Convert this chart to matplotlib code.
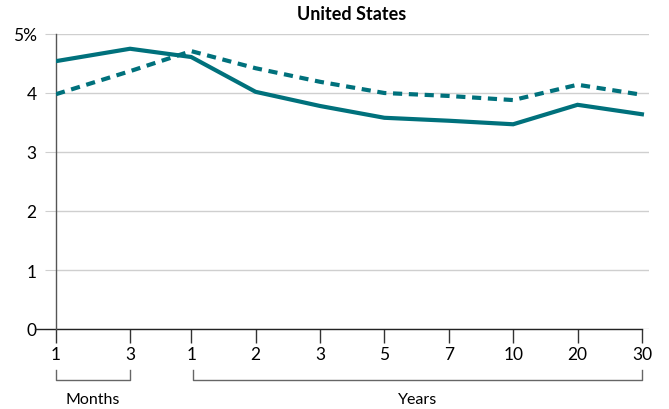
import matplotlib.pyplot as plt
from matplotlib.transforms import blended_transform_factory

plt.rcParams['font.family'] = ['Lato', 'DejaVu Sans']

# Data
tick_labels = ['1', '3', '1', '2', '3', '5', '7', '10', '20', '30']
solid_vals = [4.54, 4.75, 4.61, 4.02, 3.78, 3.58, 3.53, 3.47, 3.80, 3.64]
dashed_vals = [3.98, 4.37, 4.71, 4.42, 4.19, 4.00, 3.95, 3.88, 4.14, 3.97]

# layout: months are spaced a bit wider than the rest
x_pos = [0, 1.15, 2.1, 3.1, 4.1, 5.1, 6.1, 7.1, 8.1, 9.1]

teal = '#00717c'
W, H = 669, 410
fig = plt.figure(figsize=(W / 100, H / 100), dpi=100)
ax = fig.add_axes([56 / W, 1 - 330 / H, (649 - 56) / W, (330 - 35) / H])

ax.plot(x_pos, solid_vals, color=teal, lw=3, solid_joinstyle='miter', zorder=3)
ax.plot(x_pos, dashed_vals, color=teal, lw=3, linestyle=(0, (2.2, 1.6)), zorder=3)

ax.set_xlim(0, 9.21)
ax.set_ylim(0, 5)
ax.set_yticks(range(6))
ax.set_yticklabels(['0', '1', '2', '3', '4', '5%'], fontsize=12.5)
ax.set_xticks(x_pos)
ax.set_xticklabels(tick_labels, fontsize=12.5)
ax.grid(axis='y', color='#cfcfcf', lw=1)
ax.set_axisbelow(True)

for s in ['top', 'right', 'bottom']:
    ax.spines[s].set_visible(False)
ax.spines['left'].set_color('#555555')
ax.spines['left'].set_linewidth(1)
ax.tick_params(axis='y', length=8, color='#cfcfcf', pad=6)
ax.tick_params(axis='x', length=10, color='#333333', width=1, pad=2)

# x axis line starting left of the y axis
tr = blended_transform_factory(fig.transFigure, ax.transData)
ax.plot([35 / W, 642 / W], [0, 0], color='#222222', lw=1, transform=tr, clip_on=False)

# brackets
def bracket(x0, x1, label):
    y_top, y_bot = 371, 381
    xs = [x0 / W, x0 / W, x1 / W, x1 / W]
    ys = [1 - y_top / H, 1 - y_bot / H, 1 - y_bot / H, 1 - y_top / H]
    fig.add_artist(plt.Line2D(xs, ys, color='#666666', lw=1, transform=fig.transFigure))
    fig.text((x0 + x1) / 2 / W, 1 - 400 / H, label, ha='center', va='center', fontsize=11.5)

bracket(56, 130, 'Months')
bracket(193, 642, 'Years')

fig.text(352 / W, 1 - 15 / H, 'United States', ha='center', va='center',
         fontsize=13, fontweight='bold')

fig.savefig('out.png', dpi=100)
